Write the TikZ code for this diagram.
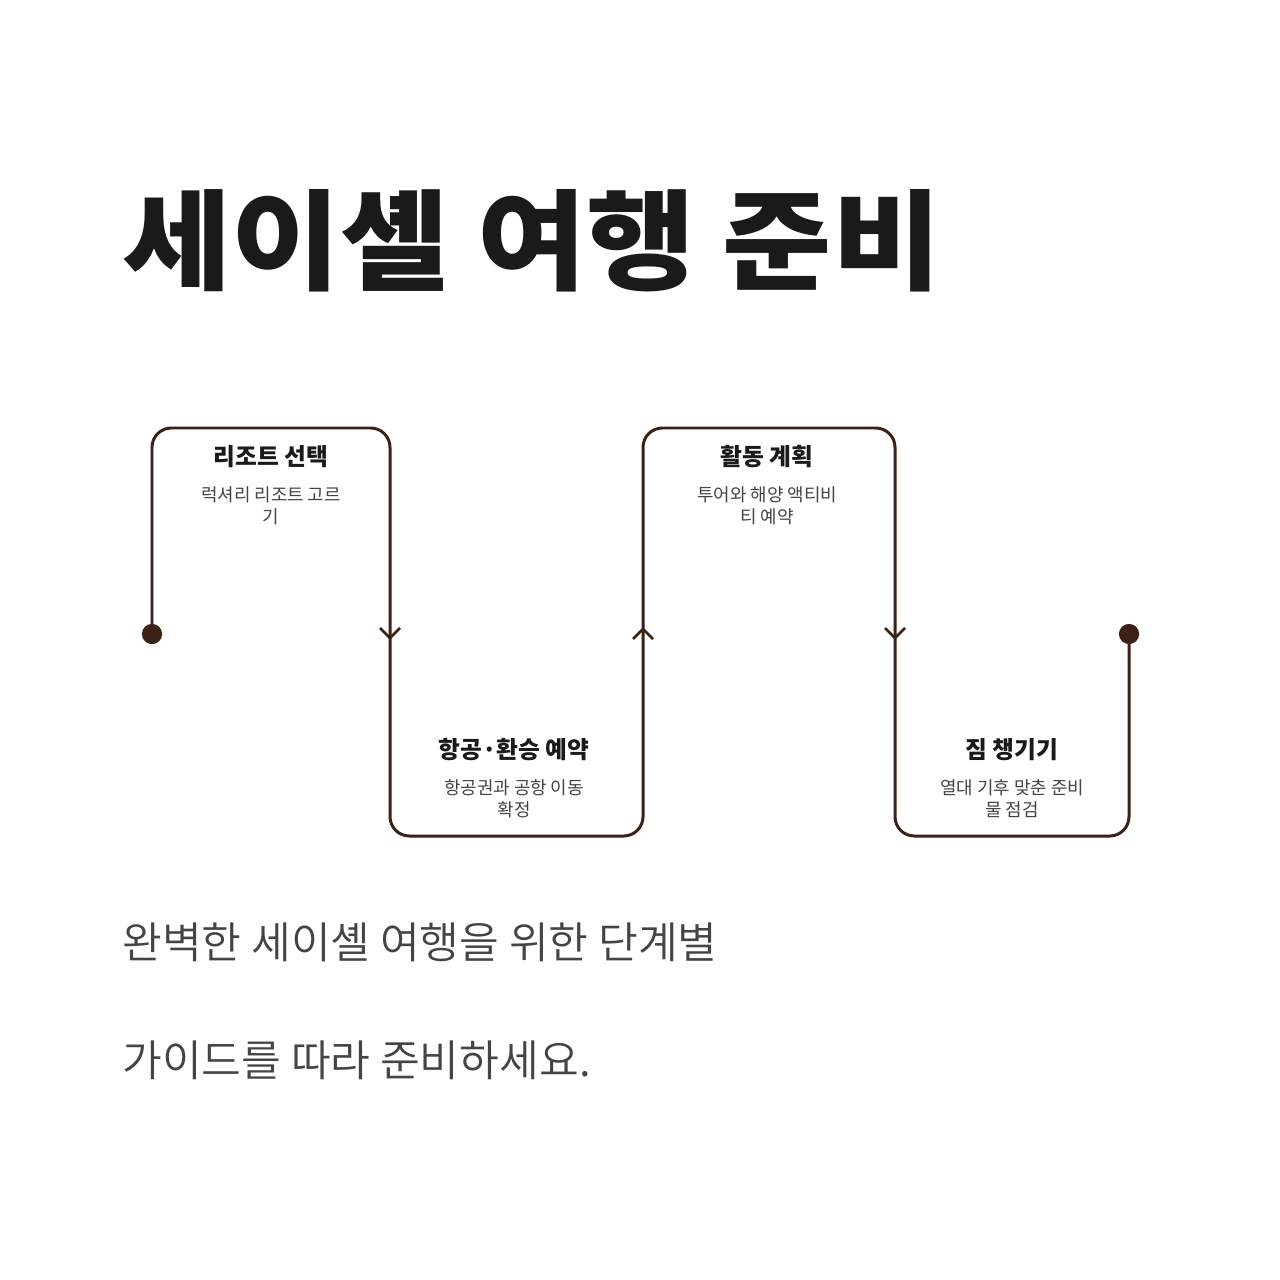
\documentclass[tikz,border=0pt]{standalone}
\usepackage{fontspec}
\setmainfont{Noto Sans CJK KR}
\newfontfamily\titlefont{Noto Sans CJK KR Black}
\newfontfamily\lightfont{Noto Sans CJK KR DemiLight}
\usetikzlibrary{positioning}
\definecolor{trail}{HTML}{3B2116}
\definecolor{ink}{HTML}{1A1A1A}
\definecolor{soft}{HTML}{444444}
\tikzset{
  steptitle/.style={font=\titlefont\fontsize{13.5}{14}\selectfont, text=ink, inner sep=0pt},
  stepnote/.style={font=\fontsize{10.2}{12.5}\selectfont, text=soft, align=center, inner sep=0pt},
  caption/.style={anchor=west, inner sep=0pt, text=soft, font=\lightfont\fontsize{24.6}{24.6}\selectfont},
  dot/.style={circle, fill=trail, minimum size=11.5pt, inner sep=0pt},
}
\begin{document}
\begin{tikzpicture}[x=0.02cm, y=-0.02cm]

% canvas
\useasboundingbox[fill=white] (0,0) rectangle (1280,1280);

% Title
\node[anchor=base west, inner sep=0pt, text=ink, xscale=1.09, font=\titlefont\fontsize{62}{62}\selectfont] (title) at (122,281) {세이셸 여행 준비};

% Trail
\node[dot] (start) at (152,634) {};
\node[dot] (finish) at (1129,634) {};
\coordinate (c1) at (152,428);
\coordinate (c2) at (390,428);
\coordinate (c3) at (390,836);
\coordinate (c4) at (643,836);
\coordinate (c5) at (643,428);
\coordinate (c6) at (895,428);
\coordinate (c7) at (895,836);
\coordinate (c8) at (1129,836);

\draw[trail, line width=1.7pt, rounded corners=11pt]
(start.center) -- (c1) -- (c2) -- (c3) -- (c4) -- (c5) -- (c6) -- (c7) -- (c8) -- (finish.center);

% Arrows
\coordinate (a1) at (390,638);
\coordinate (a2) at (643,629);
\coordinate (a3) at (895,638);
\draw[trail, line width=1.5pt] (380,628) -- (a1) -- (400,628);
\draw[trail, line width=1.5pt] (633,639) -- (a2) -- (653,639);
\draw[trail, line width=1.5pt] (885,628) -- (a3) -- (905,628);

% Steps
\node[steptitle] (s1) at (271,457) {리조트 선택};
\node[stepnote, below=10pt of s1] (n1) {럭셔리 리조트 고르\\기};

\node[steptitle] (s2) at (514,750) {항공·환승 예약};
\node[stepnote, below=10pt of s2] (n2) {항공권과 공항 이동\\확정};

\node[steptitle] (s3) at (767,457) {활동 계획};
\node[stepnote, below=10pt of s3] (n3) {투어와 해양 액티비\\티 예약};

\node[steptitle] (s4) at (1012,750) {짐 챙기기};
\node[stepnote, below=10pt of s4] (n4) {열대 기후 맞춘 준비\\물 점검};

% Caption
\node[caption] (cap1) at (122,942) {완벽한 세이셸 여행을 위한 단계별};
\node[caption] (cap2) at (122,1060) {가이드를 따라 준비하세요.};

\end{tikzpicture}
\end{document}
